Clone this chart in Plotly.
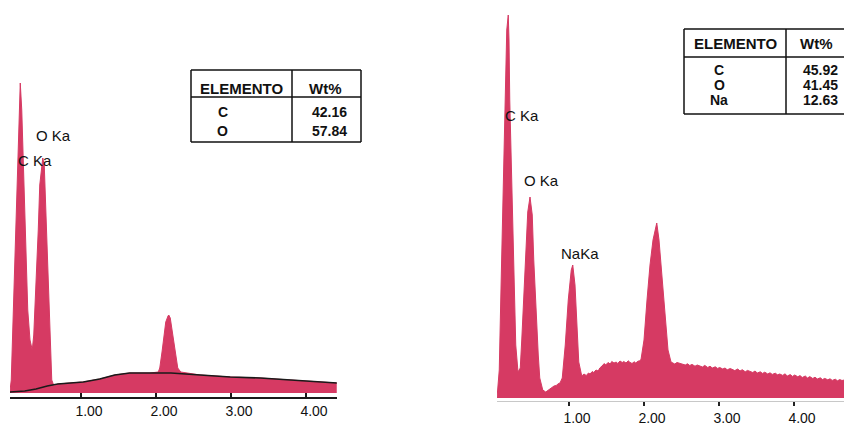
import plotly.graph_objects as go

# ---- Spectrum A (carbon / oxygen sample) : energy in keV, intensity in counts ----
energy_a = [0.05, 0.07, 0.09, 0.12, 0.15, 0.17, 0.19, 0.21, 0.24, 0.27, 0.29, 0.32,
            0.35, 0.37, 0.40, 0.43, 0.45, 0.48, 0.49, 0.51, 0.53, 0.56, 0.59, 0.61,
            0.64, 0.69, 0.85, 1.03, 1.25, 1.45, 1.65, 1.92, 2.03, 2.05, 2.08, 2.11,
            2.13, 2.16, 2.17, 2.19, 2.21, 2.24, 2.27, 2.29, 2.33, 2.59, 2.99, 3.39,
            3.79, 4.19, 4.41]
counts_a = [0, 130, 630, 1430, 2230, 2830, 3100, 2830, 2030, 1330, 830, 530,
            430, 580, 1030, 1630, 2080, 2310, 2350, 2280, 1830, 1130, 430, 130,
            70, 90, 100, 110, 140, 180, 200, 200, 210, 250, 410, 580,
            710, 770, 780, 750, 630, 500, 350, 250, 210, 180, 160, 150,
            130, 110, 100]

# fitted background under spectrum A
bkg_energy_a = [0.05, 0.25, 0.40, 0.55, 0.69, 0.85, 1.03, 1.25, 1.45, 1.65, 1.92,
                2.20, 2.59, 2.99, 3.39, 3.79, 4.19, 4.41]
bkg_counts_a = [10, 20, 40, 70, 90, 100, 110, 140, 180, 200, 200,
                200, 180, 160, 150, 130, 110, 100]

# ---- Spectrum B (carbon / oxygen / sodium sample) ----
energy_b = [0.04, 0.07, 0.09, 0.12, 0.15, 0.17, 0.19, 0.20, 0.21, 0.24, 0.27, 0.29,
            0.32, 0.35, 0.37, 0.40, 0.43, 0.45, 0.48, 0.51, 0.53, 0.56, 0.59, 0.61,
            0.65, 0.69, 0.72, 0.75, 0.78, 0.80, 0.83, 0.85, 0.88, 0.91, 0.95, 0.99,
            1.03, 1.05, 1.08, 1.11, 1.13, 1.17, 1.20, 1.23, 1.26, 1.28, 1.31, 1.33,
            1.36, 1.39, 1.41, 1.44, 1.47, 1.49, 1.52, 1.55, 1.57, 1.60, 1.63, 1.65,
            1.68, 1.71, 1.73, 1.76, 1.79, 1.81, 1.84, 1.87, 1.89, 1.92, 1.94, 1.96,
            2.00, 2.04, 2.08, 2.12, 2.16, 2.17, 2.20, 2.24, 2.28, 2.32, 2.36, 2.39,
            2.41, 2.44, 2.48, 2.51, 2.55, 2.58, 2.61, 2.64, 2.68, 2.71, 2.75, 2.78,
            2.81, 2.85, 2.88, 2.91, 2.95, 2.98, 3.01, 3.05, 3.08, 3.11, 3.15, 3.18,
            3.21, 3.25, 3.28, 3.31, 3.35, 3.38, 3.41, 3.45, 3.48, 3.51, 3.55, 3.58,
            3.61, 3.65, 3.68, 3.71, 3.75, 3.78, 3.81, 3.85, 3.88, 3.91, 3.95, 3.98,
            4.01, 4.05, 4.08, 4.11, 4.15, 4.18, 4.21, 4.25, 4.28, 4.31, 4.35, 4.38,
            4.41, 4.45, 4.48, 4.51, 4.55, 4.58, 4.61, 4.64, 4.67]
counts_b = [0, 280, 980, 1980, 2980, 3680, 3830, 3580, 2980, 1980, 1080, 530,
            260, 300, 580, 1080, 1530, 1860, 2010, 1830, 1380, 830, 430, 200,
            80, 60, 75, 95, 105, 120, 125, 140, 150, 200, 530, 980,
            1280, 1330, 1130, 680, 360, 220, 240, 225, 250, 240, 265, 255,
            280, 270, 300, 320, 345, 330, 355, 340, 365, 350, 360, 345,
            370, 355, 365, 350, 372, 358, 345, 362, 350, 368, 372, 385,
            580, 980, 1330, 1580, 1730, 1750, 1580, 1180, 780, 480, 360, 352,
            340, 355, 345, 338, 330, 342, 325, 336, 318, 330, 322, 310,
            326, 305, 318, 300, 312, 296, 305, 290, 300, 282, 295, 286,
            274, 290, 270, 283, 262, 276, 268, 255, 270, 250, 262, 246,
            258, 240, 252, 236, 248, 232, 240, 226, 242, 220, 234, 216,
            230, 212, 224, 205, 220, 200, 214, 195, 208, 190, 202, 185,
            196, 182, 192, 176, 188, 172, 184, 175, 180]

# ---- Quantification tables ----
elements_a = ["C", "O"]
wt_a = [42.16, 57.84]
elements_b = ["C", "O", "Na"]
wt_b = [45.92, 41.45, 12.63]

# ---- Peak labels: (text, energy keV, counts) ----
peaks_a = [("O Ka", 0.63, 2580), ("C Ka", 0.39, 2330)]
peaks_b = [("C Ka", 0.37, 2830), ("O Ka", 0.63, 2180), ("NaKa", 1.15, 1450)]

tick_vals = [1, 2, 3, 4]
tick_text = ["1.00", "2.00", "3.00", "4.00"]

FILL = "#d63a63"
W, H = 844, 426
FONT = "Liberation Sans, Arial, sans-serif"


def px(x):
    return x / W


def py(y):
    return 1 - y / H


fig = go.Figure()

fig.add_trace(go.Scatter(x=energy_a, y=counts_a, mode="lines", fill="tozeroy",
                         line=dict(color=FILL, width=1), fillcolor=FILL,
                         xaxis="x", yaxis="y", hoverinfo="skip"))
fig.add_trace(go.Scatter(x=bkg_energy_a, y=bkg_counts_a, mode="lines",
                         line=dict(color="#1a1a1a", width=1.6),
                         xaxis="x", yaxis="y", hoverinfo="skip"))
fig.add_trace(go.Scatter(x=energy_b, y=counts_b, mode="lines", fill="tozeroy",
                         line=dict(color=FILL, width=1), fillcolor=FILL,
                         xaxis="x2", yaxis="y2", hoverinfo="skip"))

axis_common = dict(tickvals=tick_vals, ticktext=tick_text, showgrid=False,
                   zeroline=False, ticklabelshift=8,
                   tickfont=dict(family=FONT, size=14, color="#111"))

fig.update_layout(
    width=W, height=H, margin=dict(l=0, r=0, t=0, b=0),
    paper_bgcolor="white", plot_bgcolor="white", showlegend=False,
    xaxis=dict(domain=[px(10), px(337)], range=[4 / 75, 331 / 75],
               showline=True, linecolor="#1a1a1a", linewidth=2,
               ticks="inside", ticklen=4, tickcolor="#1a1a1a", tickwidth=2,
               anchor="y", **axis_common),
    yaxis=dict(domain=[py(397), 1], range=[-40, 3930], visible=False,
               anchor="x"),
    xaxis2=dict(domain=[px(497), 1], range=[0.04, 350 / 75],
                showline=True, linecolor="#c8c8c8", linewidth=1,
                ticks="outside", ticklen=4, tickcolor="#222", tickwidth=2,
                anchor="y2", **axis_common),
    yaxis2=dict(domain=[py(401), 1], range=[-30, 3980], visible=False,
                anchor="x2"),
)

annotations = []
for text, e, c in peaks_a:
    annotations.append(dict(x=e, y=c, xref="x", yref="y", text=text,
                            showarrow=False, xanchor="center", yanchor="middle",
                            font=dict(family=FONT, size=15, color="#111")))
for text, e, c in peaks_b:
    annotations.append(dict(x=e, y=c, xref="x2", yref="y2", text=text,
                            showarrow=False, xanchor="center", yanchor="middle",
                            font=dict(family=FONT, size=15, color="#111")))

shapes = []


def add_table(left, right, divider, top, header_line, bottom, header_y,
              row_ys, elem_x, value_right, elements, values, right_border=True):
    line = dict(color="#111", width=1.5)

    def seg(x0, y0, x1, y1):
        shapes.append(dict(type="line", xref="paper", yref="paper",
                           x0=px(x0), x1=px(x1), y0=py(y0), y1=py(y1), line=line))

    seg(left, top, right, top)
    seg(left, bottom, right, bottom)
    seg(left, header_line, right, header_line)
    seg(left, top, left, bottom)
    seg(divider, top, divider, bottom)
    if right_border:
        seg(right, top, right, bottom)

    hfont = dict(family=FONT, size=15, color="#111")
    vfont = dict(family=FONT, size=14, color="#111")

    def label(x, y, text, font, anchor):
        annotations.append(dict(x=px(x), y=py(y), xref="paper", yref="paper",
                                text=text, showarrow=False, font=font,
                                xanchor=anchor, yanchor="middle"))

    label((left + divider) / 2, header_y, "<b>ELEMENTO</b>", hfont, "center")
    label(value_right - 5, header_y, "<b>Wt%</b>", hfont, "right")
    for el, val, ry in zip(elements, values, row_ys):
        label(elem_x, ry, "<b>%s</b>" % el, vfont, "center")
        label(value_right, ry, "<b>%.2f</b>" % val, vfont, "right")


add_table(191, 361, 292, 70, 97, 142, 88, [112, 131], 223, 349,
          elements_a, wt_a)
add_table(684, 844, 786, 29, 57, 114, 43, [70, 85, 100], 719, 840,
          elements_b, wt_b, right_border=False)

fig.update_layout(annotations=annotations, shapes=shapes)

fig.write_html("out.html")
